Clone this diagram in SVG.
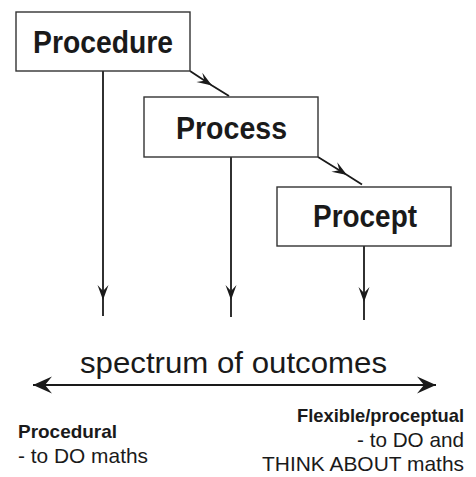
<svg xmlns="http://www.w3.org/2000/svg" width="476" height="477" viewBox="0 0 476 477">
<style>
.box{fill:#fff;stroke:#333;stroke-width:1.4}
.lbl{font-family:"Liberation Sans",Arial,Helvetica,sans-serif;font-weight:bold;font-size:31px;fill:#1a1a1a;text-anchor:middle}
.conn{fill:none;stroke:#1a1a1a;stroke-width:1.8}
.t{font-family:"Liberation Sans",Arial,Helvetica,sans-serif;fill:#1a1a1a}
.b{font-weight:bold;font-size:19px}
.r{font-size:21px}
</style>
<defs>
<marker id="ah" markerUnits="userSpaceOnUse" viewBox="-16 -7 17 14" markerWidth="17" markerHeight="14" refX="0" refY="0" orient="auto" overflow="visible">
<path d="M0,0 L-15,-5.5 L-9,0 L-15,5.5 Z" fill="#1a1a1a"/>
</marker>
<marker id="big" markerUnits="userSpaceOnUse" viewBox="-20 -10 21 20" markerWidth="21" markerHeight="20" refX="0" refY="0" orient="auto-start-reverse" overflow="visible">
<path d="M0,0 L-19,-8.5 L-12,0 L-19,8.5 Z" fill="#1a1a1a"/>
</marker>
</defs>
<g id="connectors">
<path class="conn" d="M190,71 L212,85.5 L229,96" marker-mid="url(#ah)"/>
<path class="conn" d="M318,157 L347,175 L362,184.5" marker-mid="url(#ah)"/>
<path class="conn" d="M103,71 L103,300 L103,316" marker-mid="url(#ah)"/>
<path class="conn" d="M231,157 L231,300 L231,317" marker-mid="url(#ah)"/>
<path class="conn" d="M364,246 L364,302 L364,320" marker-mid="url(#ah)"/>
<path class="conn" d="M33,385 L436,385" stroke-width="2.2" marker-start="url(#big)" marker-end="url(#big)"/>
</g>
<g id="procedure">
<rect class="box" x="16" y="12" width="174" height="59"/>
<text class="lbl" x="103" y="53" textLength="140" lengthAdjust="spacingAndGlyphs">Procedure</text>
</g>
<g id="process">
<rect class="box" x="144" y="97" width="174" height="60"/>
<text class="lbl" x="231.5" y="139" textLength="111" lengthAdjust="spacingAndGlyphs">Process</text>
</g>
<g id="procept">
<rect class="box" x="277" y="187" width="174" height="59"/>
<text class="lbl" x="365" y="227" textLength="104" lengthAdjust="spacingAndGlyphs">Procept</text>
</g>
<g id="spectrum">
<text class="t" x="233.5" y="373" font-size="29" text-anchor="middle" textLength="307" lengthAdjust="spacingAndGlyphs">spectrum of outcomes</text>
</g>
<g id="procedural">
<text class="t b" x="18" y="438" textLength="99" lengthAdjust="spacingAndGlyphs">Procedural</text>
<text class="t r" x="18" y="463" textLength="130" lengthAdjust="spacingAndGlyphs">- to DO maths</text>
</g>
<g id="flexible">
<text class="t b" x="297" y="422" textLength="167" lengthAdjust="spacingAndGlyphs">Flexible/proceptual</text>
<text class="t r" x="357" y="447" textLength="107" lengthAdjust="spacingAndGlyphs">- to DO and</text>
<text class="t r" x="262" y="471" textLength="202" lengthAdjust="spacingAndGlyphs">THINK ABOUT maths</text>
</g>
</svg>
